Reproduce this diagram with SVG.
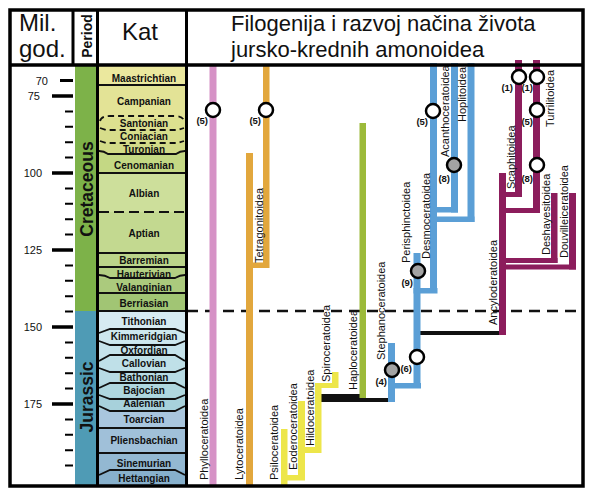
<svg xmlns="http://www.w3.org/2000/svg" width="597" height="498" viewBox="0 0 597 498">
<style>
.sans{font-family:"Liberation Sans",Arial,Helvetica,sans-serif}
.st{font-family:"Liberation Sans",Arial,sans-serif;font-weight:bold;font-size:10px;text-anchor:middle;fill:#111}
.bd{fill:none;stroke:#111;stroke-width:1.8}
.dsh{stroke-dasharray:6 4}
.lab{font-family:"Liberation Sans",Arial,sans-serif;font-size:11px;fill:#111}
.num{font-family:"Liberation Sans",Arial,sans-serif;font-weight:bold;font-size:9.5px;text-anchor:end;fill:#111}
.oc{fill:#fff;stroke:#000;stroke-width:2.5}
.gc{fill:#a3a3a3;stroke:#000;stroke-width:2.5}
.ax{font-family:"Liberation Sans",Arial,sans-serif;font-size:11px;text-anchor:end;fill:#111}
.maj{stroke:#000;stroke-width:3.5}
.min{stroke:#000;stroke-width:2}
.per{font-family:"Liberation Sans",Arial,sans-serif;font-weight:bold;font-size:17.5px;text-anchor:middle;fill:#111}
.fr{stroke:#000;stroke-width:3.5;fill:none}
.pink{fill:#d692c6}.orange{fill:#e2a73d}.yellow{fill:#ede64a}.green{fill:#9cba3a}.blue{fill:#5b9fd6}.purple{fill:#8c1d5c}.black{fill:#111}
</style>

<!-- stages -->
<g id="stages">
<rect x="99" y="66" width="86" height="19" fill="#ebe89e"/>
<rect x="99" y="85" width="86" height="33" fill="#e3e396"/>
<rect x="99" y="118" width="86" height="12" fill="#dde08f"/>
<rect x="99" y="130" width="86" height="13" fill="#d7dd8b"/>
<rect x="99" y="143" width="86" height="10" fill="#d2db88"/>
<rect x="99" y="153" width="86" height="20" fill="#c4d884"/>
<rect x="99" y="173" width="86" height="39" fill="#cddf9b"/>
<rect x="99" y="212" width="86" height="41" fill="#c3d990"/>
<rect x="99" y="253" width="86" height="14" fill="#bbd48a"/>
<rect x="99" y="267" width="86" height="11" fill="#b3cf83"/>
<rect x="99" y="278" width="86" height="15" fill="#abca7d"/>
<rect x="99" y="293" width="86" height="18" fill="#a1c574"/>
<rect x="99" y="311" width="86" height="19" fill="#d7ebf2"/>
<rect x="99" y="330" width="86" height="13" fill="#cde7ee"/>
<rect x="99" y="343" width="86" height="14" fill="#c6e3eb"/>
<rect x="99" y="357" width="86" height="13" fill="#bfe0e8"/>
<rect x="99" y="370" width="86" height="14" fill="#b7dbe4"/>
<rect x="99" y="384" width="86" height="13" fill="#afd7df"/>
<rect x="99" y="397" width="86" height="13" fill="#a7d1db"/>
<rect x="99" y="410" width="86" height="18" fill="#a9c6de"/>
<rect x="99" y="428" width="86" height="25" fill="#a0c0d9"/>
<rect x="99" y="453" width="86" height="18" fill="#93b8d2"/>
<rect x="99" y="471" width="86" height="15" fill="#87b0cc"/>
<path class="bd" d="M99 85H185M99 173H185M99 253H185M99 267H185M99 293H185M99 311H185M99 428H185M99 453H185"/>
<path class="bd dsh" d="M100 121Q101 116 110 116H175Q183 116 184 121"/>
<path class="bd dsh" d="M100 128L106 130H178L184 128"/>
<path class="bd dsh" d="M100 141L106 143H178L184 141"/>
<path class="bd" d="M99 151Q104 151 108 154H176Q180 151 185 151"/>
<path class="bd" stroke-dasharray="10 5" d="M99 212H185"/>
<path class="bd" d="M99 275Q105 275 110 278H175Q180 275 185 275"/>
<path class="bd" d="M99 333L110 329H175L185 333"/>
<path class="bd" d="M99 341L110 345H175L185 341"/>
<path class="bd" d="M99 361L110 355H175L185 361"/>
<path class="bd" d="M99 368L110 372H175L185 368"/>
<path class="bd" d="M99 388L110 383H175L185 388"/>
<path class="bd" d="M99 395L110 399H175L185 395"/>
<path class="bd" d="M99 406L110 411H175L185 406"/>
<path class="bd" d="M99 475L110 470H175L185 475"/>
<text class="st" x="144" y="81.5">Maastrichtian</text>
<text class="st" x="144" y="105">Campanian</text>
<text class="st" x="144" y="127">Santonian</text>
<text class="st" x="144" y="140">Coniacian</text>
<text class="st" x="144" y="152.5">Turonian</text>
<text class="st" x="144" y="169">Cenomanian</text>
<text class="st" x="144" y="197">Albian</text>
<text class="st" x="144" y="237">Aptian</text>
<text class="st" x="144" y="264">Barremian</text>
<text class="st" x="144" y="278">Hauterivian</text>
<text class="st" x="144" y="291">Valanginian</text>
<text class="st" x="144" y="307">Berriasian</text>
<text class="st" x="144" y="325">Tithonian</text>
<text class="st" x="144" y="340">Kimmeridgian</text>
<text class="st" x="144" y="354">Oxfordian</text>
<text class="st" x="144" y="367">Callovian</text>
<text class="st" x="144" y="381">Bathonian</text>
<text class="st" x="144" y="394">Bajocian</text>
<text class="st" x="144" y="407">Aalenian</text>
<text class="st" x="144" y="423">Toarcian</text>
<text class="st" x="144" y="444">Pliensbachian</text>
<text class="st" x="144" y="467">Sinemurian</text>
<text class="st" x="144" y="482">Hettangian</text>
</g>

<g id="periods">
<rect x="75" y="66" width="21" height="245" fill="#7db249"/>
<rect x="75" y="311" width="21" height="175" fill="#4f9bb5"/>
<text class="per" transform="translate(92.5 189) rotate(-90)">Cretaceous</text>
<text class="per" transform="translate(92.5 397) rotate(-90)">Jurassic</text>
</g>

<g id="timescale">
<path class="maj" d="M52 96H73M52 173H73M52 250H73M52 327H73M52 404H73"/>
<path stroke="#000" stroke-width="3" d="M60 80.5H73"/>
<path class="min" d="M65 111.4H73M65 126.8H73M65 142.2H73M65 157.6H73M65 188.4H73M65 203.8H73M65 219.2H73M65 234.6H73M65 265.4H73M65 280.8H73M65 296.2H73M65 311.6H73M65 342.4H73M65 357.8H73M65 373.2H73M65 388.6H73M65 419.4H73M65 434.8H73M65 450.2H73M65 465.6H73"/>
<text class="ax" x="48" y="84.5">70</text>
<text class="ax" x="40" y="99.5">75</text>
<text class="ax" x="42" y="177">100</text>
<text class="ax" x="42" y="254">125</text>
<text class="ax" x="42" y="330.5">150</text>
<text class="ax" x="42" y="408">175</text>
</g>

<!-- J/K boundary -->
<path d="M187 311H583" stroke="#111" stroke-width="2.5" stroke-dasharray="11 7"/>

<g id="connectors">
<rect class="orange" x="246" y="262.5" width="23" height="5.5"/>
<rect class="yellow" x="281" y="475" width="24" height="5.5"/>
<rect class="yellow" x="298" y="447" width="23" height="6"/>
<rect class="yellow" x="315" y="383" width="23" height="5"/>
<rect class="black" x="321" y="394" width="40" height="8"/>
<rect class="black" x="360" y="398" width="30" height="4"/>
<rect class="blue" x="388" y="383" width="33" height="5.5"/>
<rect class="blue" x="413.5" y="288" width="24" height="5.5"/>
<rect class="blue" x="430" y="207" width="28" height="5.5"/>
<rect class="blue" x="430" y="216.5" width="44.5" height="5.5"/>
<rect class="black" x="420" y="331" width="86" height="4"/>
<rect class="purple" x="499" y="192" width="23" height="5"/>
<rect class="purple" x="499" y="208" width="41" height="5"/>
<rect class="purple" x="499" y="258" width="58.5" height="5"/>
<rect class="purple" x="499" y="264.5" width="77" height="5"/>
</g>

<g id="phylloceratoidea">
<rect class="pink" x="209.5" y="66" width="7" height="420"/>
<text class="lab" transform="translate(208 480) rotate(-90)">Phylloceratoidea</text>
<text class="num" x="208" y="124">(5)</text>
<circle class="oc" cx="213" cy="110" r="7"/>
</g>
<g id="lytoceratoidea">
<rect class="orange" x="246" y="153" width="7" height="333"/>
<text class="lab" transform="translate(243 480) rotate(-90)">Lytoceratoidea</text>
</g>
<g id="tetragonitoidea">
<rect class="orange" x="263" y="66" width="6.5" height="202"/>
<text class="lab" transform="translate(263 263) rotate(-90)">Tetragonitoidea</text>
<text class="num" x="261" y="124">(5)</text>
<circle class="oc" cx="266" cy="110" r="7"/>
</g>
<g id="psiloceratoidea">
<rect class="yellow" x="281" y="429" width="6.5" height="57"/>
<text class="lab" transform="translate(278 480) rotate(-90)">Psiloceratoidea</text>
</g>
<g id="eoderoceratoidea">
<rect class="yellow" x="298" y="401" width="7" height="79"/>
<text class="lab" transform="translate(297 470) rotate(-90)">Eoderoceratoidea</text>
</g>
<g id="hildoceratoidea">
<rect class="yellow" x="315" y="383" width="6.5" height="70"/>
<text class="lab" transform="translate(314 446) rotate(-90)">Hildoceratoidea</text>
</g>
<g id="spiroceratoidea">
<rect class="yellow" x="332" y="372" width="6.5" height="16"/>
<text class="lab" transform="translate(330 382) rotate(-90)">Spiroceratoidea</text>
</g>
<g id="haploceratoidea">
<rect class="green" x="359.5" y="123" width="6.5" height="275"/>
<text class="lab" transform="translate(357 390) rotate(-90)">Haploceratoidea</text>
</g>
<g id="stephanoceratoidea">
<rect class="blue" x="388" y="343" width="7" height="59"/>
<text class="lab" transform="translate(385 360) rotate(-90)">Stephanoceratoidea</text>
<text class="num" x="387" y="385">(4)</text>
<circle class="gc" cx="392" cy="370" r="7"/>
</g>
<g id="perisphinctoidea">
<rect class="blue" x="413.5" y="253" width="7" height="135"/>
<text class="lab" transform="translate(410 263) rotate(-90)">Perisphinctoidea</text>
<text class="num" x="413" y="286">(9)</text>
<text class="num" x="412" y="372">(6)</text>
<circle class="gc" cx="418" cy="271" r="7"/>
<circle class="oc" cx="417" cy="357" r="7"/>
</g>
<g id="desmoceratoidea">
<rect class="blue" x="430" y="63" width="7" height="230"/>
<text class="lab" transform="translate(430 259) rotate(-90)">Desmoceratoidea</text>
<text class="num" x="428" y="125">(5)</text>
<circle class="oc" cx="433" cy="111" r="7"/>
</g>
<g id="acanthoceratoidea">
<rect class="blue" x="451" y="63" width="7" height="149.5"/>
<text class="lab" transform="translate(449 157) rotate(-90)">Acanthoceratoidea</text>
<text class="num" x="450" y="182">(8)</text>
<circle class="gc" cx="454" cy="165" r="7"/>
</g>
<g id="hoplitoidea">
<rect class="blue" x="467.5" y="63" width="7" height="159"/>
<text class="lab" transform="translate(466 122) rotate(-90)">Hoplitoidea</text>
</g>
<g id="ancyloderatoidea">
<rect class="purple" x="499" y="173" width="7" height="162"/>
<text class="lab" transform="translate(497 325) rotate(-90)">Ancyloderatoidea</text>
</g>
<g id="scaphitoidea">
<rect class="purple" x="515" y="60" width="7" height="137"/>
<text class="lab" transform="translate(515 189) rotate(-90)">Scaphitoidea</text>
<text class="num" x="513" y="91">(1)</text>
<circle class="oc" cx="519" cy="77" r="7"/>
</g>
<g id="turrilitoidea">
<rect class="purple" x="533" y="60" width="7" height="153"/>
<text class="lab" transform="translate(554 127) rotate(-90)">Turrilitoidea</text>
<text class="num" x="533" y="91">(1)</text>
<text class="num" x="533" y="125">(5)</text>
<text class="num" x="533" y="182">(8)</text>
<circle class="oc" cx="537" cy="77" r="7"/>
<circle class="oc" cx="537" cy="110" r="7"/>
<circle class="oc" cx="537" cy="165" r="7"/>
</g>
<g id="deshayesitoidea">
<rect class="purple" x="551" y="193" width="6.5" height="70"/>
<text class="lab" transform="translate(550 255) rotate(-90)">Deshayesitoidea</text>
</g>
<g id="douvilleiceratoidea">
<rect class="purple" x="569" y="193" width="7" height="76.5"/>
<text class="lab" transform="translate(568 258) rotate(-90)">Douvilleiceratoidea</text>
</g>

<g id="header">
<rect x="11" y="11" width="571" height="53" fill="none"/>
<text class="sans" x="19" y="31" font-size="24" fill="#111">Mil.</text>
<text class="sans" x="19" y="57" font-size="24" fill="#111">god.</text>
<text class="sans" transform="translate(92 36) rotate(-90)" font-size="14" font-weight="bold" text-anchor="middle" fill="#111">Period</text>
<text class="sans" x="122" y="40" font-size="24" fill="#111">Kat<tspan font-size="6" fill="#999">.</tspan></text>
<text class="sans" x="231" y="31" font-size="22" fill="#111">Filogenija i razvoj načina života</text>
<text class="sans" x="231" y="57" font-size="22" fill="#111">jursko-krednih amonoidea</text>
</g>

<g id="frame">
<rect class="fr" x="10" y="10" width="573" height="476"/>
<path class="fr" d="M10 65H583"/>
<path stroke="#000" stroke-width="3" d="M73 10V65M97.5 10V486M186.5 10V486"/>
</g>
</svg>
